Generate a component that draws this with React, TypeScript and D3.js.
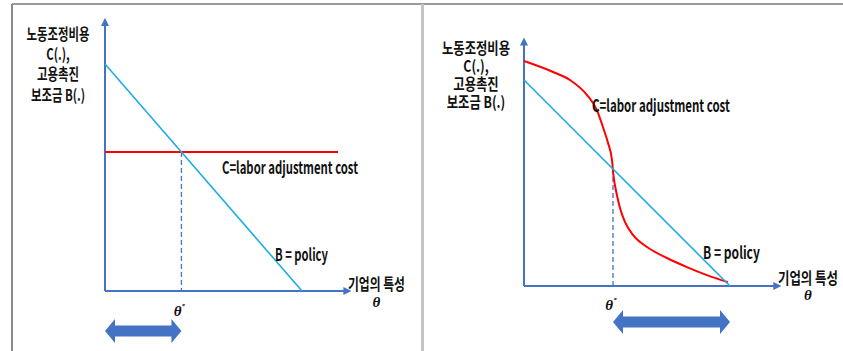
import React from "react";
import * as d3 from "d3";

const W = 843;
const H = 351;

// Axis captions and labels
const yCaption = ["노동조정비용", "C(.),", "고용촉진", "보조금 B(.)"];
const xCaption = "기업의 특성";
const thetaSymbol = "θ";
const costLabel = "C=labor adjustment cost";
const policyLabel = "B = policy";

// Employment subsidy B(θ), identical in both panels
const policyTheta = [0, 10];
const policyValue = [10, 0];

// Left panel: flat labor adjustment cost
const flatCostTheta = [0, 11.83];
const flatCostValue = [6.12, 6.12];
const thetaStarLeft = 3.88;

// Right panel: S-shaped labor adjustment cost
const curveCostTheta = [0, 1.41, 2.23, 3.06, 3.54, 3.83, 4.08, 4.27, 4.34, 4.51, 4.66, 4.9, 5.29, 5.97, 6.94, 7.91, 8.88, 9.9];
const curveCostValue = [10.92, 10.39, 10.0, 9.27, 8.54, 7.72, 6.94, 6.12, 5.39, 4.42, 3.79, 3.11, 2.48, 1.89, 1.36, 0.92, 0.53, 0.19];
const thetaStarRight = 4.32;

// Axis extent in model units
const axisThetaMax = 12.18;
const axisValueMax = 11.75;

const AXIS = "#4472C4";
const POLICY = "#1FADE4";
const COST = "#FF0000";
const KR = "'Noto Sans CJK KR', 'Noto Sans', sans-serif";
const SERIF = "'Liberation Serif', 'DejaVu Serif', serif";

type Pt = [number, number];
const zip = (xs: number[], ys: number[]): Pt[] => xs.map((x, i) => [x, ys[i]]);

// Text width in px for the given font, used to squeeze labels horizontally
let ctx: CanvasRenderingContext2D | null = null;
function textWidth(text: string, weight: number | string, size: number) {
  if (!ctx) ctx = document.createElement("canvas").getContext("2d");
  if (!ctx) return text.length * size * 0.6;
  ctx.font = `${weight} ${size}px ${KR}`;
  return ctx.measureText(text).width;
}

function doubleArrow(x0: number, x1: number, cy: number) {
  const head = 10;
  const hh = 12;
  const sh = 5.5;
  return [
    [x0, cy],
    [x0 + head, cy - hh],
    [x0 + head, cy - sh],
    [x1 - head, cy - sh],
    [x1 - head, cy - hh],
    [x1, cy],
    [x1 - head, cy + hh],
    [x1 - head, cy + sh],
    [x0 + head, cy + sh],
    [x0 + head, cy + hh],
  ]
    .map((p) => p.join(","))
    .join(" ");
}

type Lbl = { x: number; y: number; w: number };

// Single-line label condensed to width w, x at its left edge
function Squeezed({ l, text, size, weight }: { l: Lbl; text: string; size: number; weight: number | string }) {
  const sx = l.w / textWidth(text, weight, size);
  return (
    <text
      transform={`translate(${l.x},${l.y}) scale(${sx},1)`}
      dominantBaseline="central"
      fontFamily={KR}
      fontWeight={weight}
      fontSize={size}
      fill="#111"
    >
      {text}
    </text>
  );
}

type PanelProps = {
  xRange: [number, number];
  yRange: [number, number];
  cost: Pt[];
  curved: boolean;
  thetaStar: number;
  band: [number, number];
  bandY: number;
  capX: number;
  capY: number;
  capStep: number;
  capW: number;
  costLbl: Lbl;
  policyLbl: Lbl;
  xCapLbl: Lbl;
  thetaY: number;
  starY: number;
};

function Panel(p: PanelProps) {
  const x = d3.scaleLinear().domain([0, 10]).range(p.xRange);
  const y = d3.scaleLinear().domain([0, 10]).range(p.yRange);
  const line = d3
    .line<Pt>()
    .x((d) => x(d[0]))
    .y((d) => y(d[1]))
    .curve(p.curved ? d3.curveMonotoneX : d3.curveLinear);
  const straight = d3
    .line<Pt>()
    .x((d) => x(d[0]))
    .y((d) => y(d[1]));
  const policy = zip(policyTheta, policyValue);
  const starX = x(p.thetaStar);
  const policyAtStar = 10 - p.thetaStar;
  const xEnd = x(axisThetaMax);
  const capSize = 15.5;
  const capScale = p.capW / textWidth(yCaption[0], "bold", capSize);

  return (
    <g>
      {/* axes */}
      <line x1={x(0)} y1={y(0)} x2={xEnd} y2={y(0)} stroke={AXIS} strokeWidth={2} markerEnd="url(#ah)" />
      <line x1={x(0)} y1={y(0)} x2={x(0)} y2={y(axisValueMax)} stroke={AXIS} strokeWidth={2} markerEnd="url(#ah)" />

      {/* threshold */}
      <line
        x1={starX}
        y1={y(policyAtStar)}
        x2={starX}
        y2={y(0)}
        stroke={AXIS}
        strokeWidth={1.3}
        strokeDasharray="5,3"
      />

      {/* curves */}
      <path d={line(p.cost) || ""} fill="none" stroke={COST} strokeWidth={2} />
      <path d={straight(policy) || ""} fill="none" stroke={POLICY} strokeWidth={1.6} />

      {/* y caption, one block of centred lines */}
      <text
        transform={`translate(${p.capX},${p.capY}) scale(${capScale},1)`}
        textAnchor="middle"
        dominantBaseline="central"
        fontFamily={KR}
        fontWeight="bold"
        fontSize={capSize}
        fill="#111"
      >
        {yCaption.map((t, i) => (
          <tspan key={t} x={0} y={i * p.capStep}>
            {t}
          </tspan>
        ))}
      </text>

      <Squeezed l={p.costLbl} text={costLabel} size={17} weight={600} />
      <Squeezed l={p.policyLbl} text={policyLabel} size={17} weight={600} />
      <Squeezed l={p.xCapLbl} text={xCaption} size={16} weight={600} />
      <text
        x={p.xCapLbl.x + p.xCapLbl.w / 2}
        y={p.thetaY}
        textAnchor="middle"
        dominantBaseline="central"
        fontFamily={SERIF}
        fontStyle="italic"
        fontWeight="bold"
        fontSize={15}
        fill="#111"
      >
        {thetaSymbol}
      </text>
      <text
        x={starX - 2}
        y={p.starY}
        textAnchor="middle"
        dominantBaseline="central"
        fontFamily={SERIF}
        fontStyle="italic"
        fontWeight="bold"
        fontSize={15}
        fill="#111"
      >
        {thetaSymbol}
        <tspan fontSize={7} dy={-5}>
          *
        </tspan>
      </text>

      {/* range of θ eligible for the subsidy */}
      <polygon points={doubleArrow(x(p.band[0]), x(p.band[1]), p.bandY)} fill={AXIS} />
    </g>
  );
}

export default function App() {
  return (
    <svg
      width={W}
      height={H}
      viewBox={`0 0 ${W} ${H}`}
      style={{ position: "absolute", left: 0, top: 0, background: "#fff" }}
    >
      <defs>
        <marker id="ah" viewBox="0 0 10 10" refX="2" refY="5" markerWidth="8" markerHeight="8" markerUnits="userSpaceOnUse" orient="auto">
          <path d="M0,0 L10,5 L0,10 Z" fill={AXIS} />
        </marker>
      </defs>
      <rect x={0} y={0} width={W} height={H} fill="#fff" />

      {/* frame */}
      <line x1={12} y1={4} x2={W} y2={4} stroke="#9a9a9a" strokeWidth={2} />
      <line x1={12} y1={4} x2={12} y2={H} stroke="#8a8a8a" strokeWidth={2} />
      <line x1={422.5} y1={4} x2={422.5} y2={H} stroke="#c4c4c4" strokeWidth={3} />

      <Panel
        xRange={[105, 302]}
        yRange={[291, 64]}
        cost={zip(flatCostTheta, flatCostValue)}
        curved={false}
        thetaStar={thetaStarLeft}
        band={[0, thetaStarLeft]}
        bandY={331}
        capX={58}
        capY={33}
        capStep={20.3}
        capW={63}
        costLbl={{ x: 222, y: 166, w: 136 }}
        policyLbl={{ x: 275, y: 253, w: 53 }}
        xCapLbl={{ x: 348, y: 283, w: 57 }}
        thetaY={302}
        starY={311}
      />
      <Panel
        xRange={[524, 730]}
        yRange={[286, 80]}
        cost={zip(curveCostTheta, curveCostValue)}
        curved={true}
        thetaStar={thetaStarRight}
        band={[thetaStarRight, 10]}
        bandY={322}
        capX={476}
        capY={47}
        capStep={18}
        capW={68}
        costLbl={{ x: 592, y: 104, w: 138 }}
        policyLbl={{ x: 703, y: 252, w: 57 }}
        xCapLbl={{ x: 778, y: 277, w: 60 }}
        thetaY={295}
        starY={305}
      />
    </svg>
  );
}
